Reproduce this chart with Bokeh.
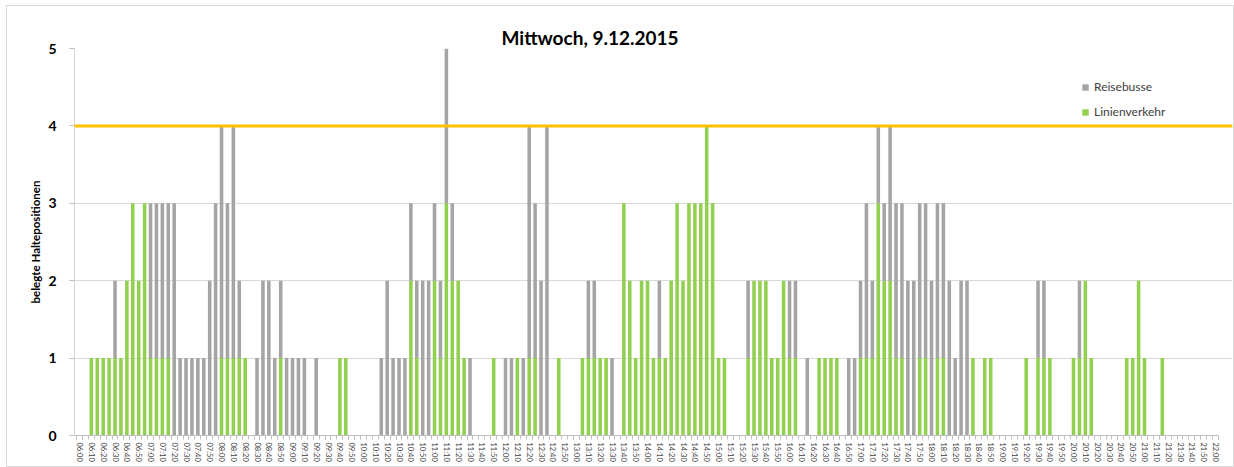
from bokeh.plotting import figure
from bokeh.models import (ColumnDataSource, FixedTicker, Span, Legend,
                          LegendItem, Range1d, Title)
from bokeh.embed import file_html
from bokeh.resources import INLINE

chart_title = "Mittwoch, 9.12.2015"
y_title = "belegte Haltepositionen"
capacity = 4

# 5-minute slots from 06:00 to 22:00
times = [f"{h:02d}:{m:02d}" for h in range(6, 22) for m in range(0, 60, 5)] + ["22:00"]

# Linienverkehr (green, bottom of stack), one row per hour
linienverkehr = [
    0, 0, 1, 1, 1, 1, 1, 1, 2, 3, 2, 3,   # 06
    1, 1, 1, 1, 0, 0, 0, 0, 0, 0, 0, 0,   # 07
    1, 1, 1, 1, 1, 0, 0, 0, 0, 0, 1, 0,   # 08
    0, 0, 0, 0, 0, 0, 0, 0, 1, 1, 0, 0,   # 09
    0, 0, 0, 0, 0, 0, 0, 0, 2, 1, 0, 0,   # 10
    2, 1, 3, 2, 2, 1, 0, 0, 0, 0, 1, 0,   # 11
    0, 0, 1, 0, 1, 1, 0, 0, 0, 1, 0, 0,   # 12
    0, 1, 1, 1, 1, 1, 0, 0, 3, 2, 1, 2,   # 13
    2, 1, 1, 1, 2, 3, 2, 3, 3, 3, 4, 3,   # 14
    1, 1, 0, 0, 0, 1, 2, 2, 2, 1, 1, 2,   # 15
    1, 1, 0, 0, 0, 1, 1, 1, 1, 0, 0, 0,   # 16
    1, 1, 1, 3, 2, 2, 1, 1, 0, 0, 1, 1,   # 17
    0, 1, 1, 0, 0, 0, 0, 1, 0, 1, 1, 0,   # 18
    0, 0, 0, 0, 1, 0, 1, 1, 1, 0, 0, 0,   # 19
    1, 1, 2, 1, 0, 0, 0, 0, 0, 1, 1, 2,   # 20
    1, 0, 0, 1, 0, 0, 0, 0, 0, 0, 0, 0,   # 21
    0,                                    # 22:00
]

# Reisebusse (grey, top of stack)
reisebusse = [
    0, 0, 0, 0, 0, 0, 1, 0, 0, 0, 0, 0,   # 06
    2, 2, 2, 2, 3, 1, 1, 1, 1, 1, 2, 3,   # 07
    3, 2, 3, 1, 0, 0, 1, 2, 2, 1, 1, 1,   # 08
    1, 1, 1, 0, 1, 0, 0, 0, 0, 0, 0, 0,   # 09
    0, 0, 0, 1, 2, 1, 1, 1, 1, 1, 2, 2,   # 10
    1, 1, 2, 1, 0, 0, 1, 0, 0, 0, 0, 0,   # 11
    1, 1, 0, 1, 3, 2, 2, 4, 0, 0, 0, 0,   # 12
    0, 0, 1, 1, 0, 0, 1, 0, 0, 0, 0, 0,   # 13
    0, 0, 1, 0, 0, 0, 0, 0, 0, 0, 0, 0,   # 14
    0, 0, 0, 0, 0, 1, 0, 0, 0, 0, 0, 0,   # 15
    1, 1, 0, 1, 0, 0, 0, 0, 0, 0, 1, 1,   # 16
    1, 2, 1, 1, 1, 2, 2, 2, 2, 2, 2, 2,   # 17
    2, 2, 2, 2, 1, 2, 2, 0, 0, 0, 0, 0,   # 18
    0, 0, 0, 0, 0, 0, 1, 1, 0, 0, 0, 0,   # 19
    0, 1, 0, 0, 0, 0, 0, 0, 0, 0, 0, 0,   # 20
    0, 0, 0, 0, 0, 0, 0, 0, 0, 0, 0, 0,   # 21
    0,                                    # 22:00
]

GREEN = "#92D050"
GREY = "#A5A5A5"
FONT = "Lato"

n = len(times)
idx = list(range(n))
source = ColumnDataSource(dict(x=idx, time=times,
                               Linienverkehr=linienverkehr,
                               Reisebusse=reisebusse))

p = figure(width=1226, height=460, output_backend="svg", toolbar_location=None,
           x_range=Range1d(-0.85, 194.87), y_range=Range1d(0, 5),
           min_border_left=67, min_border_right=1, min_border_top=42,
           min_border_bottom=31)
p.styles = {"margin-left": "7px", "margin-top": "6px",
            "outline": "1px solid #D9D9D9"}
p.outline_line_color = None
p.background_fill_color = "white"
p.border_fill_color = "white"

renderers = p.vbar_stack(["Linienverkehr", "Reisebusse"], x="x", width=0.6,
                         color=[GREEN, GREY], line_color=None, source=source)

p.add_layout(Span(location=capacity, dimension="width", line_color="#FFC000",
                  line_width=3))

# Real title, with an invisible spacer title between it and the frame
p.title.text = chart_title
p.title.text_font = FONT
p.title.text_font_size = "19px"
p.title.text_font_style = "bold"
p.title.text_color = "#000000"
p.title.align = "left"
p.title.offset = 427
p.title.standoff = 0
spacer = Title(text="-", text_font=FONT, text_font_size="14px", text_alpha=0,
               standoff=0)
p.add_layout(spacer, "above")

# Y axis
p.yaxis.ticker = FixedTicker(ticks=[0, 1, 2, 3, 4, 5])
p.yaxis.major_label_text_font = FONT
p.yaxis.major_label_text_font_size = "14px"
p.yaxis.major_label_text_font_style = "bold"
p.yaxis.major_label_text_color = "#000000"
p.yaxis.major_label_standoff = 13
p.yaxis.major_tick_out = 5
p.yaxis.major_tick_in = 0
p.yaxis.major_tick_line_color = "#BFBFBF"
p.yaxis.minor_tick_line_color = None
p.yaxis.axis_line_color = "#D9D9D9"
p.yaxis.axis_label = y_title
p.yaxis.axis_label_text_font = FONT
p.yaxis.axis_label_text_font_size = "11.5px"
p.yaxis.axis_label_text_font_style = "bold"
p.yaxis.axis_label_text_color = "#000000"
p.yaxis.axis_label_standoff = 3

# X axis
label_ticks = list(range(0, n, 2))
p.xaxis.ticker = FixedTicker(ticks=label_ticks,
                             minor_ticks=[i - 0.5 for i in range(n + 1)])
p.xaxis.major_label_overrides = {i: times[i] for i in label_ticks}
p.xaxis.major_label_orientation = "vertical"
p.xaxis.major_label_text_font = FONT
p.xaxis.major_label_text_font_size = "7.5px"
p.xaxis.major_label_text_color = "#404040"
p.xaxis.major_label_standoff = 3
p.xaxis.major_tick_line_color = None
p.xaxis.major_tick_out = 4
p.xaxis.minor_tick_out = 4
p.xaxis.minor_tick_in = 0
p.xaxis.minor_tick_line_color = "#BFBFBF"
p.xaxis.axis_line_color = "#BFBFBF"
p.xaxis.bounds = (-0.85, n - 0.5)

p.xgrid.visible = False
p.ygrid.ticker = FixedTicker(ticks=[1, 2, 3, 4, 5])
p.ygrid.grid_line_color = "#D9D9D9"
p.ygrid.bounds = (-0.85, n - 0.5)

legend = Legend(items=[LegendItem(label="Reisebusse", renderers=[renderers[1]]),
                       LegendItem(label="Linienverkehr", renderers=[renderers[0]])],
                location=(1007, 316))
legend.label_text_font = FONT
legend.label_text_font_size = "12px"
legend.label_text_color = "#404040"
legend.glyph_width = 8
legend.glyph_height = 8
legend.spacing = 10
legend.padding = 5
legend.margin = 0
legend.border_line_color = None
legend.background_fill_alpha = 0
p.add_layout(legend)

open("out.html", "w").write(file_html(p, INLINE))
